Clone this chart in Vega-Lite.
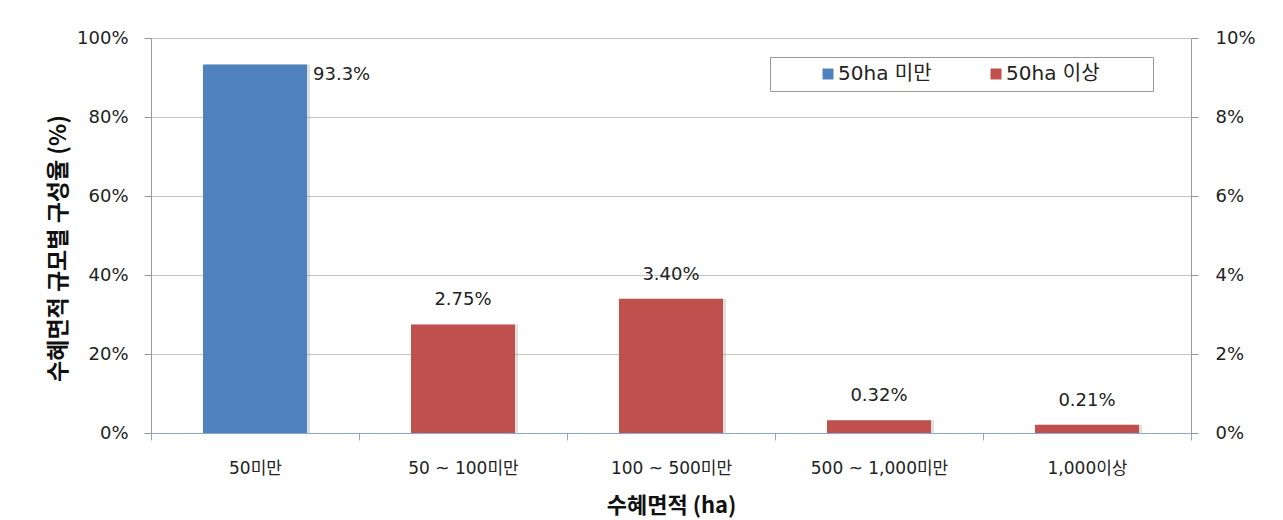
{
  "$schema": "https://vega.github.io/schema/vega-lite/v6.json",
  "autosize": "none",
  "width": 1040,
  "height": 395,
  "padding": {"left": 151, "top": 38, "right": 92, "bottom": 87},
  "background": "white",
  "config": {
    "font": "DejaVu Sans, Noto Sans CJK KR",
    "view": {"stroke": null},
    "axis": {"labelFont": "DejaVu Sans, Noto Sans CJK KR", "titleFont": "Noto Sans CJK KR", "labelColor": "#222", "titleColor": "#111"}
  },
  "data": {
    "values": [
      {"category": "50미만", "group": "50ha 미만", "value": 93.3, "label": "93.3%"},
      {"category": "50 ~ 100미만", "group": "50ha 이상", "value": 2.75, "label": "2.75%"},
      {"category": "100 ~ 500미만", "group": "50ha 이상", "value": 3.40, "label": "3.40%"},
      {"category": "500 ~ 1,000미만", "group": "50ha 이상", "value": 0.32, "label": "0.32%"},
      {"category": "1,000이상", "group": "50ha 이상", "value": 0.21, "label": "0.21%"}
    ]
  },
  "encoding": {
    "x": {
      "field": "category",
      "type": "nominal",
      "sort": null,
      "scale": {"domain": ["50미만", "50 ~ 100미만", "100 ~ 500미만", "500 ~ 1,000미만", "1,000이상"], "paddingInner": 0, "paddingOuter": 0},
      "axis": {
        "title": "수혜면적 (ha)",
        "titleFontSize": 22,
        "titleFontWeight": "bold",
        "titlePadding": 19,
        "labelAngle": 0,
        "labelFontSize": 17,
        "labelPadding": 20,
        "tickBand": "extent",
        "tickSize": 7,
        "tickColor": "#8ea9c8",
        "domainColor": "#8ea9c8",
        "grid": false
      }
    }
  },
  "layer": [
    {
      "transform": [{"filter": "datum.group === '50ha 미만'"}],
      "encoding": {
        "y": {
          "field": "value",
          "type": "quantitative",
          "scale": {"domain": [0, 100], "nice": false},
          "axis": {
            "orient": "left",
            "values": [0, 20, 40, 60, 80, 100],
            "labelExpr": "datum.value + '%'",
            "title": "수혜면적 규모별 구성율 (%)",
            "titleFontSize": 23,
            "titleFontWeight": "bold",
            "titlePadding": 6,
            "titleY": 210,
            "labelFontSize": 18,
            "labelPadding": 16,
            "tickSize": 7,
            "tickColor": "#999",
            "domainColor": "#999",
            "grid": true,
            "gridColor": "#c4c4c4"
          }
        }
      },
      "layer": [
        {
          "mark": {"type": "bar", "color": "#000", "opacity": 0.13, "xOffset": 3, "width": {"band": 0.5}}
        },
        {
          "mark": {"type": "bar", "width": {"band": 0.5}},
          "encoding": {
            "color": {
              "field": "group",
              "type": "nominal",
              "scale": {"domain": ["50ha 미만", "50ha 이상"], "range": ["#4F81BD", "#C0504D"]},
              "legend": {
                "orient": "none",
                "legendX": 619,
                "legendY": 19,
                "direction": "horizontal",
                "title": " ",
                "titleOrient": "right",
                "titlePadding": 46,
                "strokeColor": "#999",
                "padding": 7,
                "symbolType": "square",
                "symbolSize": 120,
                "symbolStrokeWidth": 0,
                "labelFontSize": 20,
                "labelFont": "DejaVu Sans, Noto Sans CJK KR",
                "labelColor": "#222",
                "columnPadding": 13,
                "symbolOffset": 41,
                "labelOffset": 0
              }
            }
          }
        },
        {
          "mark": {"type": "text", "align": "left", "baseline": "middle", "dx": 58, "dy": 11, "fontSize": 18, "color": "#222"},
          "encoding": {"text": {"field": "label"}}
        }
      ]
    },
    {
      "transform": [{"filter": "datum.group === '50ha 이상'"}],
      "encoding": {
        "y": {
          "field": "value",
          "type": "quantitative",
          "scale": {"domain": [0, 10], "nice": false},
          "axis": {
            "orient": "right",
            "values": [0, 2, 4, 6, 8, 10],
            "labelExpr": "datum.value + '%'",
            "title": null,
            "labelFontSize": 18,
            "labelPadding": 17,
            "tickSize": 7,
            "tickColor": "#999",
            "domainColor": "#999",
            "grid": false
          }
        }
      },
      "layer": [
        {
          "mark": {"type": "bar", "color": "#000", "opacity": 0.13, "xOffset": 3, "width": {"band": 0.5}}
        },
        {
          "mark": {"type": "bar", "width": {"band": 0.5}},
          "encoding": {
            "color": {
              "field": "group",
              "type": "nominal",
              "scale": {"domain": ["50ha 미만", "50ha 이상"], "range": ["#4F81BD", "#C0504D"]}
            }
          }
        },
        {
          "mark": {"type": "text", "align": "center", "baseline": "middle", "dy": -24, "fontSize": 18, "color": "#222"},
          "encoding": {"text": {"field": "label"}}
        }
      ]
    }
  ],
  "resolve": {"scale": {"y": "independent"}, "axis": {"y": "independent"}}
}
